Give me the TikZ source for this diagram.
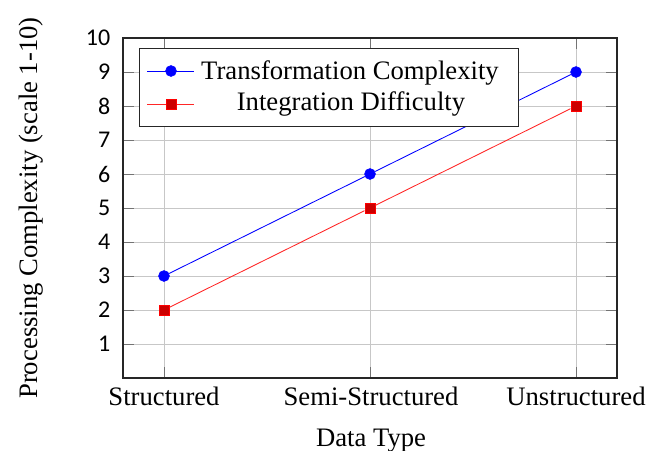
\documentclass[tikz,border=0pt]{standalone}
\usepackage{fontspec}
\setmainfont{Liberation Serif}
\newfontfamily\tickfont{Carlito}
\begin{document}
\begin{tikzpicture}[x=0.75pt,y=-0.75pt,
  font=\fontsize{20}{23}\selectfont,
  gridline/.style={draw=black!22, line width=0.7pt},
  tickmark/.style={draw=black!55, line width=0.7pt},
  frameline/.style={draw=black!85, line width=0.8pt},
  bluecurve/.style={draw=blue, line width=0.65pt},
  redcurve/.style={draw=red!85, line width=0.65pt},
  bluedot/.style={circle, fill=blue, draw=blue, inner sep=0pt, minimum size=8.2pt},
  redsq/.style={rectangle, fill=red!80!black, draw=red, inner sep=0pt, minimum size=7.8pt},
  ylab/.style={anchor=east, font=\tickfont\fontsize{18}{20}\selectfont},
  xlab/.style={anchor=base},
  legtext/.style={anchor=base}]
\useasboundingbox (0,0) rectangle (648,450);

% grid
\foreach \v in {1,...,9} {
  \draw[gridline] (123,{378-34*\v}) -- (617,{378-34*\v});
}
\foreach \xx in {164,370,576} {
  \draw[gridline] (\xx,38) -- (\xx,378);
}
% tick marks on all four sides
\foreach \v in {1,...,9} {
  \draw[tickmark] (123,{378-34*\v}) -- (134,{378-34*\v});
  \draw[tickmark] (617,{378-34*\v}) -- (606,{378-34*\v});
}
\foreach \xx in {164,370,576} {
  \draw[tickmark] (\xx,378) -- (\xx,367);
  \draw[tickmark] (\xx,38) -- (\xx,49);
}
% axis frame
\draw[frameline] (123,38) rectangle (617,378);

% y tick labels
\foreach \v in {1,...,10} {
  \node[ylab] (yt\v) at (115,{378-34*\v}) {\v};
}
% x tick labels
\node[xlab] (xs) at (164,405) {Structured};
\node[xlab] (xm) at (371,405) {Semi-Structured};
\node[xlab] (xu) at (576,405) {Unstructured};

% axis titles
\node[anchor=base] (xtitle) at (371,446) {Data Type};
\node[anchor=base, rotate=90] (ytitle) at (37,208) {Processing Complexity (scale 1-10)};

% data series
\node[bluedot] (t1) at (164,276) {};
\node[bluedot] (t2) at (370,174) {};
\node[bluedot] (t3) at (576,72) {};
\node[redsq] (i1) at (164,310) {};
\node[redsq] (i2) at (370,208) {};
\node[redsq] (i3) at (576,106) {};
\draw[bluecurve] (t1) -- (t2) -- (t3);
\draw[redcurve] (i1) -- (i2) -- (i3);

% legend
\node[draw=black!85, line width=0.8pt, fill=white, inner sep=0pt,
      minimum width=284.25pt, minimum height=58.5pt, anchor=north west] (legend) at (139,48) {};
\coordinate (la1) at (147,71);
\coordinate (lb1) at (194,71);
\coordinate (la2) at (147,104);
\coordinate (lb2) at (194,104);
\draw[bluecurve] (la1) -- (lb1);
\draw[redcurve] (la2) -- (lb2);
\node[bluedot] (lm1) at (171,71) {};
\node[redsq] (lm2) at (171,104) {};
\node[legtext] (lt1) at (350,79) {Transformation Complexity};
\node[legtext] (lt2) at (351,110) {Integration Difficulty};
\end{tikzpicture}
\end{document}
